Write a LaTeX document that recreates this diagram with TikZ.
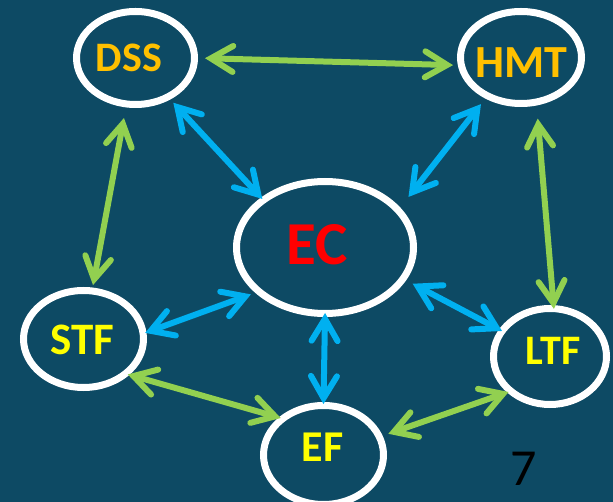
\documentclass[tikz,border=0pt]{standalone}
\usepackage{fontspec}
\setmainfont{Carlito}
\usetikzlibrary{shapes.geometric,arrows.meta}
\definecolor{bg}{HTML}{0D4A64}
\definecolor{orangelbl}{HTML}{FFC000}
\definecolor{yellowlbl}{HTML}{FFFF00}
\definecolor{redlbl}{HTML}{FF0000}
\definecolor{greenarr}{HTML}{92D050}
\definecolor{bluearr}{HTML}{00B0F0}
\tikzset{
  ell/.style={ellipse, draw=white, line width=7pt, inner sep=0pt, outer sep=3.5pt},
  lbl/.style={inner sep=0pt, font=\bfseries},
  barb/.tip={Straight Barb[length=22pt,width=26pt,line cap=round,line join=miter]},
  conn/.style={line width=6pt, line cap=round, {barb}-{barb}},
  gconn/.style={conn, draw=greenarr},
  bconn/.style={conn, draw=bluearr},
}
\begin{document}
\begin{tikzpicture}[x=1pt,y=-1pt]
\fill[bg] (0,0) rectangle (613,502);
\useasboundingbox (0,0) rectangle (613,502);
\begin{scope}
\clip (0,0) rectangle (613,502);
\node[ell, minimum width=118pt, minimum height=93pt] (dss) at (135.5,58) {};
\node[ell, minimum width=121pt, minimum height=92pt] (hmt) at (521,57.5) {};
\node[ell, minimum width=177pt, minimum height=132pt] (ec) at (325,247.5) {};
\node[ell, minimum width=120pt, minimum height=97pt] (stf) at (83.5,339) {};
\node[ell, minimum width=113pt, minimum height=96pt] (ltf) at (550,356.5) {};
\node[ell, minimum width=120pt, minimum height=99pt] (ef) at (323.5,455) {};

\node[lbl, text=orangelbl, font=\fontsize{42}{42}\selectfont\bfseries] (dsst) at (129,58) {DSS};
\node[lbl, text=orangelbl, font=\fontsize{46}{46}\selectfont\bfseries] (hmtt) at (521.5,63) {HMT};
\node[lbl, text=redlbl, font=\fontsize{61}{61}\selectfont\bfseries] (ect) at (317,245) {EC};
\node[lbl, text=yellowlbl, font=\fontsize{45}{45}\selectfont\bfseries] (stft) at (82.5,340) {STF};
\node[lbl, text=yellowlbl, font=\fontsize{42}{42}\selectfont\bfseries] (ltft) at (553,351) {LTF};
\node[lbl, text=yellowlbl, font=\fontsize{44}{44}\selectfont\bfseries] (eft) at (322.5,447.5) {EF};
\node[inner sep=0pt, text=black, font=\fontsize{52}{52}\selectfont] (num) at (524,468.5) {7};

\draw[gconn, shorten <=7pt, shorten >=4.8pt] (dss.0.8) -- (hmt.187.1);
\draw[bconn, shorten <=4.4pt, shorten >=-1.9pt] (dss.-50.2) -- (ec.142.4);
\draw[bconn, shorten <=7pt, shorten >=13.4pt] (hmt.229.3) -- (ec.28.1);
\draw[gconn, shorten <=10.8pt, shorten >=2.5pt] (dss.259.1) -- (stf.80);
\draw[gconn, shorten <=13.2pt, shorten >=-3.8pt] (hmt.288.3) -- (ltf.86.4);
\draw[bconn, shorten <=4.6pt, shorten >=-1.4pt] (ec.213.6) -- (stf.6.5);
\draw[bconn, shorten <=7.4pt, shorten >=-3.4pt] (ec.-22) -- (ltf.152);
\draw[bconn, shorten <=-4pt, shorten >=-2pt] (ec.-90) -- (ef.90.6);
\draw[gconn, shorten <=-1.7pt, shorten >=-2.1pt] (stf.-38.2) -- (ef.140.4);
\draw[gconn, shorten <=6pt, shorten >=-1.6pt] (ef.18.8) -- (ltf.220.9);
\end{scope}
\end{tikzpicture}
\end{document}
